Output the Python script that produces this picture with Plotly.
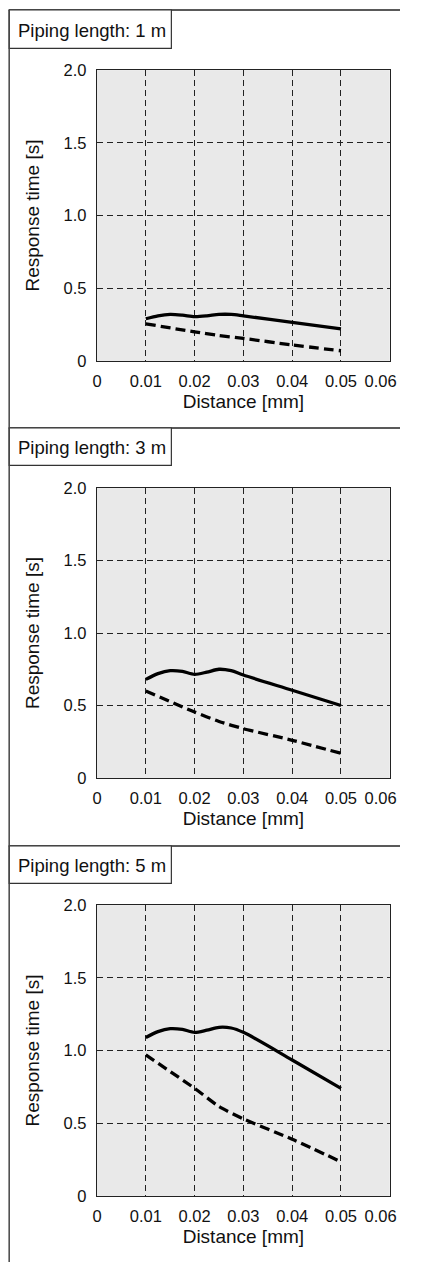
import plotly.graph_objects as go

# ---- data ----
distance_ticks = [0, 0.01, 0.02, 0.03, 0.04, 0.05, 0.06]
# last label is padded so it stays inside the picture, as in the original
distance_tick_labels = ["0", "0.01", "0.02", "0.03", "0.04", "0.05", "0.06\u00a0\u00a0\u00a0\u00a0"]
resp_ticks = [0, 0.5, 1.0, 1.5, 2.0]
resp_tick_labels = ["0", "0.5", "1.0", "1.5", "2.0"]

panel_titles = ["Piping length: 1 m", "Piping length: 3 m", "Piping length: 5 m"]

solid_x = [0.010, 0.0125, 0.015, 0.0175, 0.020, 0.0225, 0.025, 0.0275, 0.030, 0.040, 0.050]
solid_1m = [0.29, 0.31, 0.32, 0.315, 0.305, 0.31, 0.32, 0.32, 0.31, 0.265, 0.22]
solid_3m = [0.68, 0.72, 0.74, 0.735, 0.715, 0.73, 0.75, 0.74, 0.71, 0.605, 0.50]
solid_5m = [1.09, 1.13, 1.15, 1.145, 1.125, 1.14, 1.16, 1.155, 1.125, 0.935, 0.74]

dashed_x = [0.010, 0.020, 0.025, 0.030, 0.040, 0.050]
dashed_1m = [0.255, 0.20, 0.175, 0.155, 0.11, 0.07]
dashed_3m = [0.60, 0.455, 0.39, 0.34, 0.26, 0.17]
dashed_5m = [0.97, 0.74, 0.615, 0.53, 0.39, 0.235]

solids = [solid_1m, solid_3m, solid_5m]
dasheds = [dashed_1m, dashed_3m, dashed_5m]

W, H = 425, 1271
FONT = "Liberation Sans, Arial, sans-serif"

# pixel layout (in the 425x1271 frame) of each panel:
# (plot top, plot bottom, panel top, title box bottom)
panels_px = [(62, 357, 1, 40), (486, 780, 425, 463), (909, 1204, 849, 887)]
x_left_px, x_right_px = 99, 414

fig = go.Figure()
shapes = []
annotations = []


def py(p):
    return 1 - p / H


def px(p):
    return p / W


for i in range(3):
    top, bot, ptop, tbot = panels_px[i]
    xa = "x" if i == 0 else f"x{i+1}"
    ya = "y" if i == 0 else f"y{i+1}"
    fig.add_trace(go.Scatter(x=solid_x, y=solids[i], mode="lines",
                             line=dict(color="black", width=3.3, shape="spline", smoothing=0.8),
                             xaxis=xa, yaxis=ya, showlegend=False, hoverinfo="skip",
                             cliponaxis=False))
    fig.add_trace(go.Scatter(x=dashed_x, y=dasheds[i], mode="lines",
                             line=dict(color="black", width=3.3, dash="10px,5px", shape="spline", smoothing=0.6),
                             xaxis=xa, yaxis=ya, showlegend=False, hoverinfo="skip",
                             cliponaxis=False))
    axkey = "" if i == 0 else str(i + 1)
    fig.layout["xaxis" + axkey] = dict(
        domain=[px(x_left_px), px(x_right_px)], anchor=ya, range=[0, 0.06],
        tickvals=distance_ticks, ticktext=distance_tick_labels,
        showgrid=True, gridcolor="#222", griddash="6px,4px", gridwidth=1,
        showline=True, linecolor="#222", linewidth=1.3, mirror=True,
        zeroline=False, ticks="outside", ticklen=5, tickcolor="rgba(0,0,0,0)",
        ticklabeloverflow="allow",
        tickfont=dict(family=FONT, size=16.5, color="#111"),
        title=dict(text="Distance [mm]", font=dict(family=FONT, size=19, color="#111"), standoff=5),
        fixedrange=True,
    )
    fig.layout["yaxis" + axkey] = dict(
        domain=[py(bot), py(top)], anchor=xa, range=[0, 2.0],
        tickvals=resp_ticks, ticktext=resp_tick_labels,
        showgrid=True, gridcolor="#222", griddash="6px,4px", gridwidth=1,
        showline=True, linecolor="#222", linewidth=1.3, mirror=True,
        zeroline=False, ticks="outside", ticklen=6, tickcolor="rgba(0,0,0,0)",
        ticklabeloverflow="allow",
        tickfont=dict(family=FONT, size=16.5, color="#111"),
        title=dict(text="Response time [s]", font=dict(family=FONT, size=19, color="#111"), standoff=18),
        fixedrange=True,
    )
    # panel top separator
    shapes.append(dict(type="line", xref="paper", yref="paper",
                       x0=px(4), x1=1.0, y0=py(ptop), y1=py(ptop),
                       line=dict(color="#222", width=1.5)))
    # title box
    shapes.append(dict(type="rect", xref="paper", yref="paper",
                       x0=px(4.5), x1=px(179), y0=py(tbot), y1=py(ptop),
                       line=dict(color="#333", width=1.2), fillcolor="white"))
    annotations.append(dict(text=panel_titles[i], xref="paper", yref="paper",
                            x=px(12), y=py((ptop + tbot) / 2 + 1), xanchor="left", yanchor="middle",
                            showarrow=False, font=dict(family=FONT, size=18.5, color="#111")))

# left border
shapes.append(dict(type="line", xref="paper", yref="paper",
                   x0=px(4.5), x1=px(4.5), y0=0, y1=py(1),
                   line=dict(color="#444", width=1.5)))

fig.update_layout(
    autosize=True,
    margin=dict(l=0, r=0, t=0, b=0),
    paper_bgcolor="white",
    plot_bgcolor="#e9e9e9",
    shapes=shapes,
    annotations=annotations,
    font=dict(family=FONT, color="#111"),
)

fig.write_html(
    "out.html",
    default_width="100vw",
    default_height="100vh",
    config={"displayModeBar": False, "responsive": True},
    post_script=(
        "document.documentElement.style.margin='0';"
        "document.documentElement.style.overflow='hidden';"
        "document.body.style.margin='0';document.body.style.padding='0';"
        "document.body.style.overflow='hidden';"
        "var d=document.getElementById('{plot_id}');"
        "d.style.position='fixed';d.style.left='0px';d.style.top='0px';"
        "d.style.width='100vw';d.style.height='100vh';"
        "Plotly.Plots.resize(d);"
    ),
)
